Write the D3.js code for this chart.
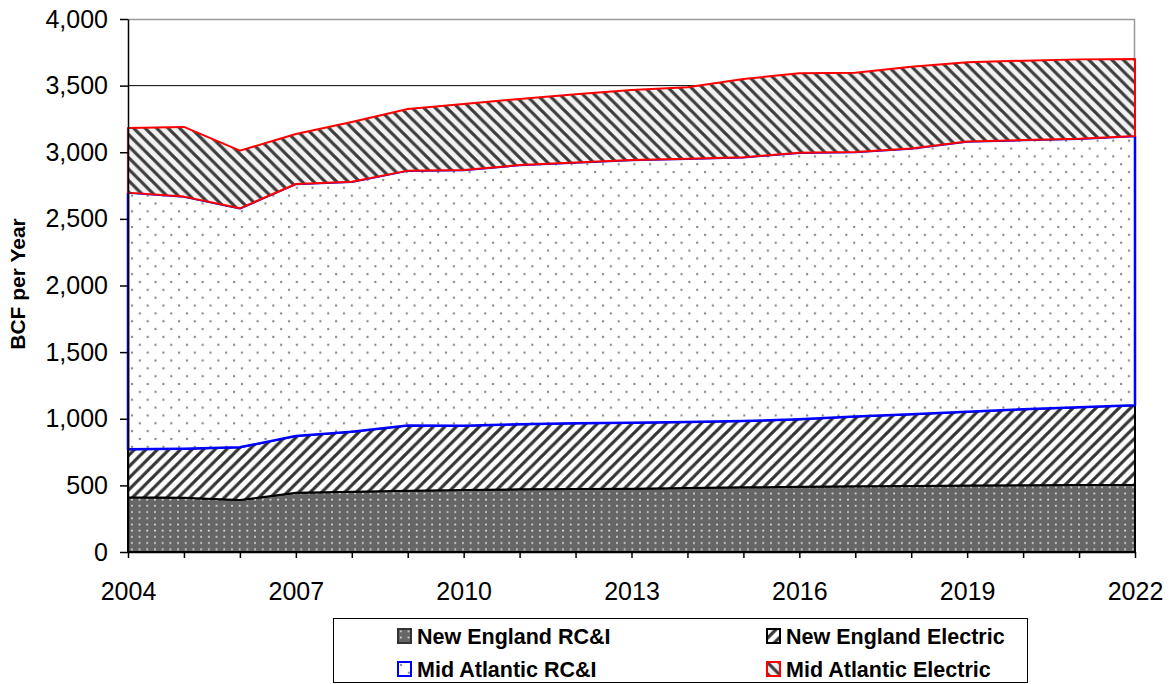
<!DOCTYPE html>
<html>
<head>
<meta charset="utf-8">
<script src="https://cdn.jsdelivr.net/npm/d3@7"></script>
<style>
    body { margin: 0; background: #fff; }
    svg { display: block; font-family: "Liberation Sans", Arial, sans-serif; }
    .axis text { font-size: 25px; fill: #000; }
    .axis path, .axis line { stroke: #000; }
    .axis-label { font-size: 21px; font-weight: bold; }
    .legend-text { font-size: 21.5px; font-weight: bold; }
</style>
</head>
<body>
<div id="chart"></div>
<script>
// values (BCF per year)
const years = [2004, 2005, 2006, 2007, 2008, 2009, 2010, 2011, 2012, 2013,
    2014, 2015, 2016, 2017, 2018, 2019, 2020, 2021, 2022];
const newEnglandRCI = [410, 408, 390, 445, 452, 460, 465, 470, 472, 475,
    480, 485, 490, 493, 496, 499, 501, 503, 505];
const newEnglandElectric = [361, 367, 396, 425, 451, 490, 483, 488, 494, 495,
    496, 498, 506, 523, 537, 554, 570, 583, 596];
const midAtlanticRCI = [1926, 1892, 1793, 1892, 1876, 1912, 1919, 1946, 1958, 1972,
    1976, 1979, 2001, 1986, 1996, 2027, 2021, 2016, 2021];
const midAtlanticElectric = [485, 523, 433, 375, 448, 463, 495, 496, 511, 525,
    535, 588, 595, 595, 613, 595, 595, 595, 578];

const seriesNames = ['New England RC&I', 'New England Electric', 'Mid Atlantic RC&I', 'Mid Atlantic Electric'];
const yTicks = [0, 500, 1000, 1500, 2000, 2500, 3000, 3500, 4000];
const xTickLabels = [2004, 2007, 2010, 2013, 2016, 2019, 2022];

class StackedAreaChart {

    constructor(_config) {
        this.config = {
            parentElement: _config.parentElement,
            containerWidth: 1170,
            containerHeight: 684,
            margin: { top: 19, right: 35, bottom: 132, left: 128 }
        };
        this.initVis();
    }

    initVis() {
        let vis = this;

        vis.width = vis.config.containerWidth - vis.config.margin.left - vis.config.margin.right;
        vis.height = vis.config.containerHeight - vis.config.margin.top - vis.config.margin.bottom;

        vis.svg = d3.select(vis.config.parentElement).append('svg')
            .attr('width', vis.config.containerWidth)
            .attr('height', vis.config.containerHeight);

        vis.addPatterns();

        vis.chart = vis.svg.append('g')
            .attr('transform', `translate(${vis.config.margin.left},${vis.config.margin.top})`);

        vis.xScale = d3.scaleLinear()
            .domain([years[0], years[years.length - 1]])
            .range([0, vis.width]);

        vis.yScale = d3.scaleLinear()
            .domain([0, 4000])
            .range([vis.height, 0]);

        vis.fills = ['url(#neRci)', 'url(#neElec)', 'url(#maRci)', 'url(#maElec)'];
        vis.borders = ['#000', '#000', '#0000ff', '#ff0000'];
    }

    addPatterns() {
        let vis = this;
        const defs = vis.svg.append('defs');

        // dark grey with light dots
        let p = defs.append('pattern').attr('id', 'neRci')
            .attr('patternUnits', 'userSpaceOnUse').attr('width', 7.7).attr('height', 6.2);
        p.append('rect').attr('width', 7.7).attr('height', 6.2).attr('fill', '#666');
        p.append('rect').attr('x', 3).attr('y', 2.4).attr('width', 1.7).attr('height', 1.7).attr('fill', '#e4e4e4');

        // white with dark "/" stripes
        p = defs.append('pattern').attr('id', 'neElec')
            .attr('patternUnits', 'userSpaceOnUse').attr('width', 11.5).attr('height', 11.5);
        p.append('rect').attr('width', 11.5).attr('height', 11.5).attr('fill', '#fff');
        p.append('path').attr('d', 'M-2,2 L2,-2 M0,11.5 L11.5,0 M9.5,13.5 L13.5,9.5')
            .attr('stroke', '#333').attr('stroke-width', 3.2);

        // white with sparse grey dots
        p = defs.append('pattern').attr('id', 'maRci')
            .attr('patternUnits', 'userSpaceOnUse').attr('width', 15.7).attr('height', 15.7);
        p.append('rect').attr('width', 15.7).attr('height', 15.7).attr('fill', '#fff');
        p.append('circle').attr('cx', 4).attr('cy', 4).attr('r', 1.2).attr('fill', '#8a8a8a');
        p.append('circle').attr('cx', 11.85).attr('cy', 11.85).attr('r', 1.2).attr('fill', '#8a8a8a');

        // light grey with dark "\" stripes
        p = defs.append('pattern').attr('id', 'maElec')
            .attr('patternUnits', 'userSpaceOnUse').attr('width', 11.5).attr('height', 11.5);
        p.append('rect').attr('width', 11.5).attr('height', 11.5).attr('fill', '#f2f2f2');
        p.append('path').attr('d', 'M-2,9.5 L2,13.5 M0,0 L11.5,11.5 M9.5,-2 L13.5,2')
            .attr('stroke', '#3c3c3c').attr('stroke-width', 3.2);
    }

    updateVis() {
        let vis = this;

        vis.data = years.map((year, i) => ({
            year: year,
            s0: newEnglandRCI[i],
            s1: newEnglandElectric[i],
            s2: midAtlanticRCI[i],
            s3: midAtlanticElectric[i]
        }));

        vis.stacked = d3.stack().keys(['s0', 's1', 's2', 's3'])(vis.data);

        vis.renderVis();
    }

    renderVis() {
        let vis = this;

        // gridlines (only visible above the areas)
        vis.chart.append('g')
            .selectAll('line')
            .data(yTicks.slice(1, -1))
            .join('line')
            .attr('x1', 0)
            .attr('x2', vis.width)
            .attr('y1', d => vis.yScale(d))
            .attr('y2', d => vis.yScale(d))
            .attr('stroke', '#000')
            .attr('stroke-width', 1);

        // plot area frame, grey on top and right
        vis.chart.append('path')
            .attr('d', `M0,0.5 H${vis.width - 0.5} V${vis.height}`)
            .attr('fill', 'none')
            .attr('stroke', '#999')
            .attr('stroke-width', 1.5);

        const area = d3.area()
            .x(d => vis.xScale(d.data.year))
            .y0(d => vis.yScale(d[0]))
            .y1(d => vis.yScale(d[1]));

        vis.chart.selectAll('.layer')
            .data(vis.stacked)
            .join('path')
            .attr('class', 'layer')
            .attr('d', area)
            .attr('fill', (d, i) => vis.fills[i])
            .attr('stroke', (d, i) => vis.borders[i])
            .attr('stroke-width', (d, i) => i === 2 ? 2.5 : 2)
            .attr('stroke-linejoin', 'round');

        vis.xAxis = d3.axisBottom(vis.xScale)
            .tickValues(years)
            .tickSize(6)
            .tickPadding(24)
            .tickSizeOuter(0)
            .tickFormat(d => xTickLabels.includes(d) ? d : '');

        vis.yAxis = d3.axisLeft(vis.yScale)
            .tickValues(yTicks)
            .tickSize(8)
            .tickPadding(12)
            .tickSizeOuter(0)
            .tickFormat(d3.format(','));

        vis.chart.append('g')
            .attr('class', 'axis x-axis')
            .attr('transform', `translate(0,${vis.height})`)
            .call(vis.xAxis)
            .call(g => g.selectAll('line, path').attr('stroke-width', 1.5));

        vis.chart.append('g')
            .attr('class', 'axis y-axis')
            .call(vis.yAxis)
            .call(g => g.selectAll('line, path').attr('stroke-width', 1.5));

        vis.svg.append('text')
            .attr('class', 'axis-label')
            .attr('text-anchor', 'middle')
            .attr('transform', 'translate(25,284) rotate(-90)')
            .text('BCF per Year');

        vis.renderLegend();
    }

    renderLegend() {
        let vis = this;

        const legend = vis.svg.append('g').attr('class', 'legend');
        legend.append('rect')
            .attr('x', 333.5).attr('y', 618.5)
            .attr('width', 694).attr('height', 64)
            .attr('fill', '#fff').attr('stroke', '#000');

        const cols = [397, 766];
        const rows = [628, 661];

        const items = legend.selectAll('.legend-item')
            .data(seriesNames)
            .join('g')
            .attr('class', 'legend-item')
            .attr('transform', (d, i) => `translate(${cols[i % 2]},${rows[Math.floor(i / 2)]})`);

        items.append('rect')
            .attr('x', 1).attr('y', 1)
            .attr('width', 13).attr('height', 14)
            .attr('fill', (d, i) => vis.fills[i])
            .attr('stroke', (d, i) => i === 0 ? '#333' : vis.borders[i])
            .attr('stroke-width', 2);

        items.append('text')
            .attr('class', 'legend-text')
            .attr('x', 20)
            .attr('y', 15.5)
            .text(d => d);
    }
}

const chart = new StackedAreaChart({ parentElement: '#chart' });
chart.updateVis();
</script>
</body>
</html>
